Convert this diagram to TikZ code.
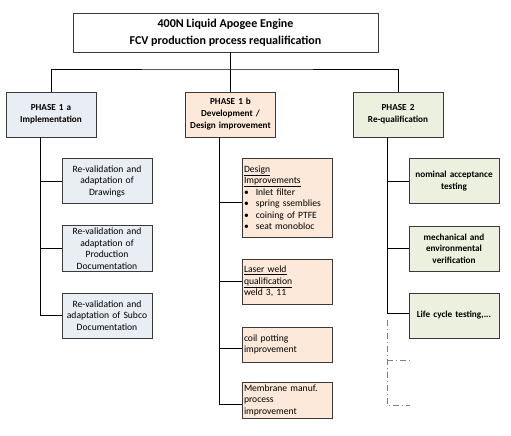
\documentclass[tikz,border=0pt]{standalone}
\usepackage{fontspec}
\setmainfont{Carlito}
\usepackage{tikz}
\definecolor{bluefill}{HTML}{E9EDF4}
\definecolor{peachfill}{HTML}{FDE9D9}
\definecolor{greenfill}{HTML}{EBF1DE}
\definecolor{boxline}{HTML}{3A3A3A}
\begin{document}
\begin{tikzpicture}[x=1pt, y=-1pt,
  box/.style={draw=boxline, line width=0.9pt, inner sep=2pt},
  titlebox/.style={box, minimum width=305pt, minimum height=39pt, align=center,
    font=\fontsize{12}{16.5}\selectfont\bfseries},
  phasebox/.style={box, minimum width=90pt, minimum height=45pt, text width=86pt, align=center,
    font=\fontsize{9.2}{12}\selectfont\bfseries},
  itemA/.style={box, fill=bluefill, minimum width=90pt, minimum height=45pt, text width=86pt, align=center,
    font=\fontsize{9.6}{11.5}\selectfont},
  itemB/.style={box, fill=peachfill, minimum width=90pt, minimum height=45pt, text width=86pt, align=left,
    font=\fontsize{9.6}{11.5}\selectfont},
  itemC/.style={box, fill=greenfill, minimum width=90pt, minimum height=45pt, text width=86pt, align=center,
    font=\fontsize{9.2}{11.5}\selectfont\bfseries},
  link/.style={draw=black, line width=0.8pt},
  later/.style={draw=gray, line width=0.9pt, dash pattern=on 6pt off 3pt on 1pt off 3pt}]
\useasboundingbox (0,0) rectangle (511,436);

\node[titlebox] (title) at (225.5,32.5) {400N Liquid Apogee Engine\\FCV production process requalification};

\node[phasebox, fill=bluefill] (p1a) at (51,114.5) {PHASE 1 a\\Implementation};
\node[phasebox, fill=peachfill] (p1b) at (230.5,114.5) {PHASE 1 b\\Development /\\Design improvement};
\node[phasebox, fill=greenfill] (p2) at (398,114.5) {PHASE 2\\Re-qualification};

\node[itemA] (draw) at (107,181) {Re-validation and\\adaptation of\\Drawings};
\node[itemA] (prod) at (107,248.5) {Re-validation and\\adaptation of\\Production\\Documentation};
\node[itemA] (subco) at (107,315.5) {Re-validation and\\adaptation of Subco\\Documentation};

\node[itemB, minimum height=79pt] (design) at (287,197.5) {\underline{Design}\\\underline{Improvements}\\
\textbullet\hspace{7pt}Inlet filter\\\textbullet\hspace{7pt}spring ssemblies\\
\textbullet\hspace{7pt}coining of PTFE\\\textbullet\hspace{7pt}seat monobloc};
\node[itemB] (laser) at (287,281.5) {\underline{Laser weld}\\\underline{qualification}\\weld 3, 11};
\node[itemB, minimum height=35pt] (coil) at (287,344.5) {coil potting\\improvement};
\node[itemB, minimum height=36pt] (membrane) at (287,400) {Membrane manuf.\\process\\improvement};

\node[itemC] (nominal) at (454,181) {nominal acceptance\\testing};
\node[itemC] (mech) at (454,248.5) {mechanical and\\environmental\\verification};
\node[itemC] (life) at (454,315.5) {Life cycle testing,...};

\coordinate (bus) at (230,69);
\draw[link] (p1b.north) -- (p1b.north |- title.south);
\draw[link] (p1a.north) |- (bus) -| (p2.north);

\coordinate (la) at ([xshift=-11pt]p1a.south);
\draw[link] (la) |- (draw.west);
\draw[link] (la) |- (prod.west);
\draw[link] (la) |- (subco.west);

\coordinate (lb) at ([xshift=-11.5pt]p1b.south);
\draw[link] (lb) |- ([yshift=-5pt]design.west);
\draw[link] (lb) |- (laser.west);
\draw[link] (lb) |- ([yshift=-4pt]coil.west);
\draw[link] (lb) |- ([yshift=-4pt]membrane.west);

\coordinate (lc) at ([xshift=-11pt]p2.south);
\draw[link] (lc) |- ([yshift=2pt]life.west);
\draw[link] (lc) |- (nominal.west);
\draw[link] (lc) |- (mech.west);

\coordinate (fa) at (lc |- 0,320);
\coordinate (fb) at (lc |- 0,360);
\coordinate (fc) at (lc |- 0,405);
\draw[later] (fa) -- (fc) -- ++(23,0);
\draw[later] (fb) -- ++(23,0);
\end{tikzpicture}
\end{document}
